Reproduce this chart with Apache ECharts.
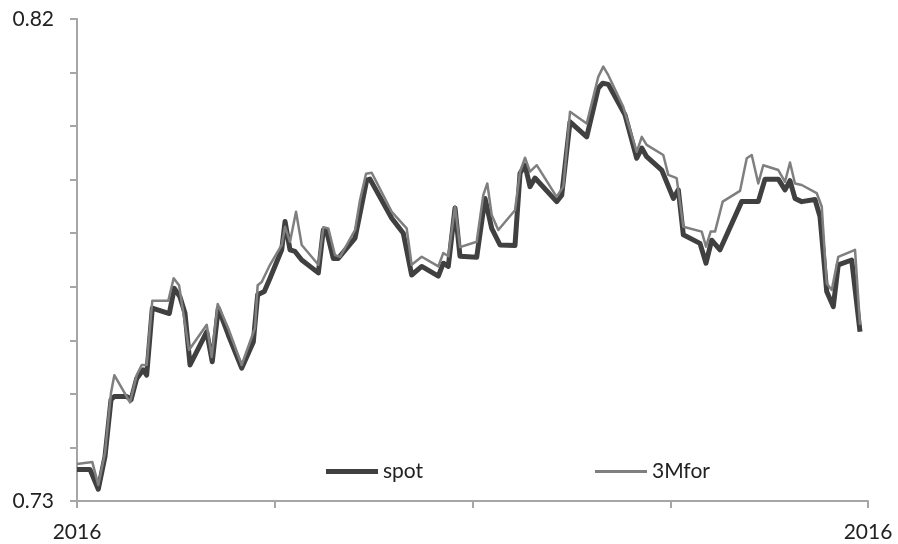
<!DOCTYPE html>
<html>
<head>
<meta charset="utf-8">
<script src="https://cdn.jsdelivr.net/npm/echarts@6/dist/echarts.min.js"></script>
<style>
  html, body { margin: 0; padding: 0; background: #fff; }
  #chart { width: 898px; height: 544px; }
</style>
</head>
<body>
<div id="chart"></div>
<script>
// position through the year (0 = start, 100 = end) and the rate
const spotX = [0, 1.64, 2.69, 3.54, 4.30, 4.72, 6.28, 6.83, 7.55, 8.38, 8.81, 9.52, 11.67, 12.30, 13.02, 13.65, 14.29,
  16.40, 17.10, 17.86, 19.13, 20.82, 22.29, 22.84, 23.68, 24.40, 25.88, 26.30, 26.93, 27.56, 28.41, 30.51, 31.14,
  31.57, 32.40, 33.03, 35.15, 35.78, 36.62, 37.04, 39.79, 41.25, 42.31, 43.58, 45.68, 46.31, 46.94, 47.79, 48.42,
  50.53, 51.58, 52.43, 53.48, 55.37, 56.01, 56.64, 57.27, 57.90, 60.64, 61.28, 62.33, 64.44, 65.90, 66.46, 67.17,
  69.28, 70.76, 71.40, 72.02, 73.92, 75.39, 76.02, 76.65, 78.76, 79.52, 80.24, 81.29, 84.03, 86.13, 86.98, 88.66,
  89.51, 90.14, 90.77, 91.62, 93.30, 93.93, 94.78, 95.61, 96.24, 97.94, 98.99];
const spotY = [0.7359, 0.7359, 0.7322, 0.7383, 0.7489, 0.7495, 0.7495, 0.7489, 0.7529, 0.7545, 0.7535, 0.7660, 0.7650,
  0.7697, 0.7681, 0.7651, 0.7554, 0.7616, 0.7560, 0.7660, 0.7610, 0.7548, 0.7597, 0.7685, 0.7691, 0.7716, 0.7769,
  0.7822, 0.7769, 0.7766, 0.7750, 0.7726, 0.7806, 0.7803, 0.7753, 0.7753, 0.7791, 0.7837, 0.7899, 0.7901, 0.7828,
  0.7800, 0.7722, 0.7738, 0.7720, 0.7744, 0.7738, 0.7847, 0.7757, 0.7755, 0.7865, 0.7809, 0.7778, 0.7777, 0.7912,
  0.7927, 0.7887, 0.7903, 0.7859, 0.7871, 0.8008, 0.7980, 0.8071, 0.8080, 0.8078, 0.8021, 0.7940, 0.7959, 0.7943,
  0.7918, 0.7865, 0.7881, 0.7797, 0.7781, 0.7744, 0.7787, 0.7769, 0.7859, 0.7859, 0.7901, 0.7901, 0.7881, 0.7898,
  0.7865, 0.7859, 0.7863, 0.7831, 0.7691, 0.7663, 0.7741, 0.7750, 0.7616];

const fwdX = [0, 1.93, 2.69, 3.54, 4.30, 4.72, 6.70, 7.55, 8.18, 8.81, 9.52, 11.54, 12.22, 12.90, 14.16, 16.40, 17.03,
  17.79, 19.13, 20.82, 22.50, 22.84, 23.35, 24.40, 25.88, 26.30, 26.93, 27.69, 28.41, 30.51, 31.14, 31.77, 32.62,
  33.25, 35.15, 35.78, 36.54, 37.26, 39.79, 41.68, 42.31, 43.58, 45.68, 46.31, 46.94, 47.79, 48.42, 50.53, 51.36,
  51.87, 52.43, 53.26, 55.37, 56.01, 56.64, 57.27, 58.12, 60.64, 61.48, 62.33, 64.44, 65.90, 66.53, 67.17, 69.06,
  70.76, 71.40, 72.02, 74.12, 74.75, 75.81, 76.65, 78.98, 79.52, 80.11, 80.66, 81.63, 83.82, 84.67, 85.30, 86.13,
  86.76, 88.66, 89.51, 90.14, 90.77, 91.62, 93.51, 94.15, 94.78, 95.42, 96.24, 98.36, 98.99];
const fwdY = [0.7369, 0.7373, 0.7330, 0.7390, 0.7502, 0.7535, 0.7484, 0.7535, 0.7554, 0.7554, 0.7674, 0.7674, 0.7716,
  0.7703, 0.7582, 0.7629, 0.7569, 0.7668, 0.7622, 0.7554, 0.7623, 0.7703, 0.7709, 0.7741, 0.7778, 0.7812, 0.7784,
  0.7840, 0.7778, 0.7741, 0.7811, 0.7809, 0.7759, 0.7756, 0.7806, 0.7862, 0.7911, 0.7913, 0.7840, 0.7809, 0.7741,
  0.7756, 0.7738, 0.7763, 0.7757, 0.7850, 0.7774, 0.7784, 0.7871, 0.7893, 0.7834, 0.7806, 0.7843, 0.7915, 0.7941,
  0.7915, 0.7927, 0.7868, 0.7887, 0.8027, 0.8005, 0.8092, 0.8111, 0.8095, 0.8036, 0.7952, 0.7980, 0.7965, 0.7946,
  0.7909, 0.7903, 0.7812, 0.7803, 0.7775, 0.7803, 0.7803, 0.7859, 0.7879, 0.7940, 0.7946, 0.7893, 0.7927, 0.7918,
  0.7896, 0.7932, 0.7893, 0.7890, 0.7875, 0.7850, 0.7706, 0.7694, 0.7756, 0.7769, 0.7629];

const yLabels = ['0.73', '0.82'];
const xLabel = '2016';

const font = 'Lato, "Open Sans", sans-serif';
const axisGray = '#a6a6a6';
const spotColor = '#404040';
const fwdColor = '#7f7f7f';

const pairs = (xs, ys) => xs.map((x, i) => [x, ys[i]]);

// one legend per series so each swatch can have its own thickness
const legendFor = (name, left, thick) => ({
  left: left,
  top: 456,
  icon: 'rect',
  itemWidth: 52,
  itemHeight: thick,
  textStyle: { fontFamily: font, fontSize: 21, color: '#222' },
  data: [name]
});

let myChart = echarts.init(document.getElementById('chart'));

myChart.setOption({
  animation: false,
  grid: { left: 77, right: 30, top: 19, bottom: 43 },
  legend: [
    legendFor('spot', 321, 5),
    legendFor('3Mfor', 590, 3)
  ],
  xAxis: {
    type: 'value',
    min: 0,
    max: 100,
    interval: 25,
    splitLine: { show: false },
    axisLine: { lineStyle: { color: axisGray, width: 2 } },
    axisTick: { length: 7, lineStyle: { color: axisGray, width: 2 } },
    axisLabel: {
      margin: 21,
      fontFamily: font,
      fontSize: 21,
      color: '#222',
      formatter: v => (v === 0 || v === 100) ? xLabel : ''
    }
  },
  yAxis: {
    type: 'value',
    min: 0.73,
    max: 0.82,
    interval: 0.01,
    splitLine: { show: false },
    axisLine: { show: true, lineStyle: { color: axisGray, width: 2 } },
    axisTick: { show: true, length: 7, lineStyle: { color: axisGray, width: 2 } },
    axisLabel: {
      margin: 23,
      fontFamily: font,
      fontSize: 21,
      color: '#222',
      formatter: v => {
        const s = v.toFixed(2);
        return yLabels.includes(s) ? s : '';
      }
    }
  },
  series: [
    {
      name: 'spot',
      type: 'line',
      symbol: 'none',
      data: pairs(spotX, spotY),
      color: spotColor,
      lineStyle: { width: 5, color: spotColor, join: 'round' }
    },
    {
      name: '3Mfor',
      type: 'line',
      symbol: 'none',
      data: pairs(fwdX, fwdY),
      color: fwdColor,
      lineStyle: { width: 2.5, color: fwdColor, join: 'round' }
    }
  ]
});
</script>
</body>
</html>
